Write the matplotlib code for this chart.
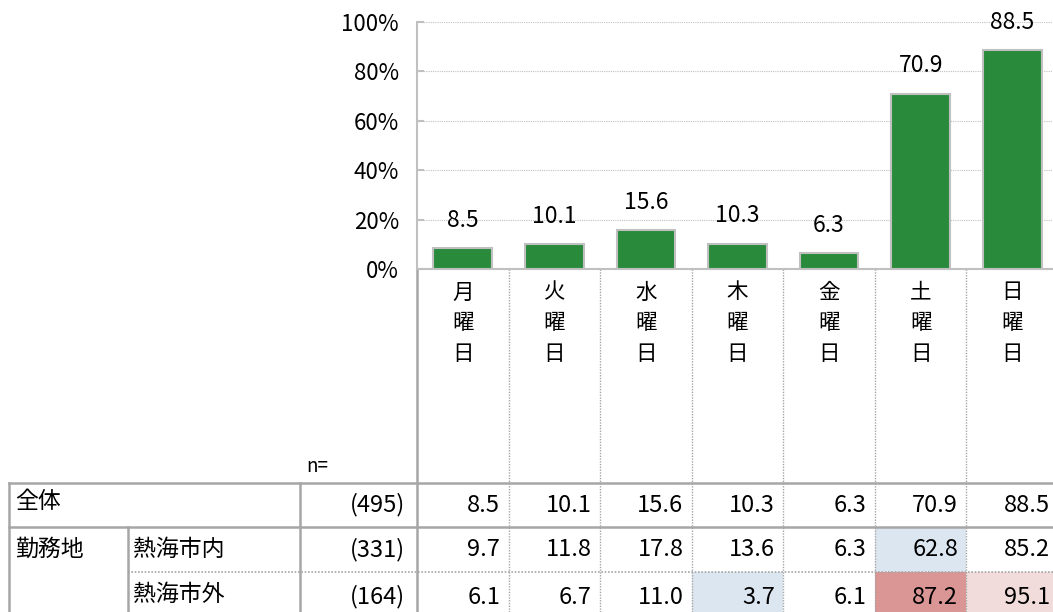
import matplotlib
matplotlib.use("Agg")
import matplotlib.pyplot as plt
import matplotlib.transforms as mtransforms
from matplotlib.patches import Rectangle

plt.rcParams["font.family"] = ["Noto Sans CJK JP", "DejaVu Sans"]
NUM_FONT = ["Liberation Sans Narrow", "Noto Sans CJK JP", "DejaVu Sans"]

# 曜日ごとの割合（%）
days = ["月曜日", "火曜日", "水曜日", "木曜日", "金曜日", "土曜日", "日曜日"]
total = [8.5, 10.1, 15.6, 10.3, 6.3, 70.9, 88.5]
inside = [9.7, 11.8, 17.8, 13.6, 6.3, 62.8, 85.2]
outside = [6.1, 6.7, 11.0, 3.7, 6.1, 87.2, 95.1]

row_labels = ["全体", "熱海市内", "熱海市外"]
group_label = "勤務地"
n_values = [495, 331, 164]

# 表のセル色分け（行, 列）
cell_colors = {
    (1, 5): "#DCE6F1",
    (2, 3): "#DCE6F1",
    (2, 5): "#DA9694",
    (2, 6): "#F2DCDB",
}

W, H = 1053, 612
fig = plt.figure(figsize=(W / 100, H / 100), dpi=100)

# 表を描くための下地（ピクセル座標）
bg = fig.add_axes([0, 0, 1, 1])
bg.set_xlim(0, W)
bg.set_ylim(H, 0)
bg.axis("off")

# 棒グラフ
x0, x1, ytop, ybot = 417, 1058, 21.7, 269
ax = fig.add_axes([x0 / W, (H - ybot) / H, (x1 - x0) / W, (ybot - ytop) / H])
ax.patch.set_alpha(0)
x = list(range(len(days)))
ax.bar(x, total, width=0.64, color="#2A8A3C", edgecolor="#C0C0C0", linewidth=1.5, zorder=3)
ax.set_xlim(-0.5, len(days) - 0.5)
ax.set_ylim(0, 100)
ax.set_yticks(range(0, 101, 20))
ax.set_yticklabels([f"{v}%" for v in range(0, 101, 20)], fontsize=16, family=NUM_FONT)
ax.tick_params(axis="y", direction="in", length=5, color="#C0C0C0", width=1.5, pad=13)
ax.grid(axis="y", color="#C0C0C0", linestyle=(0, (1, 1)), linewidth=0.8, zorder=0)
for s in ["top", "right"]:
    ax.spines[s].set_visible(False)
for s in ["left", "bottom"]:
    ax.spines[s].set_color("#C0C0C0")
    ax.spines[s].set_linewidth(1.5)

ax.set_xticks(x)
ax.set_xticklabels(["\n".join(d) for d in days], fontsize=15.5, linespacing=1.5)
ax.tick_params(axis="x", length=0, pad=9)

for xi, v in zip(x, total):
    ax.annotate(f"{v:.1f}", (xi, v), xytext=(0, 20), textcoords="offset points",
                ha="center", va="center", fontsize=16.5, family=NUM_FONT)

# 表（横方向は棒グラフのデータ座標、縦方向はピクセル）
tr = mtransforms.blended_transform_factory(ax.transData, bg.transData)
line_c = "#A6A6A6"
y_top, y_r2, y_r3, y_end = 483, 527, 572, 622

bg.text(306, 467, "n=", fontsize=13.5, ha="left", va="center")

rows = [total, inside, outside]
row_y = [(y_top + y_r2) / 2, (y_r2 + y_r3) / 2, (y_r3 + y_end) / 2]
for (r, c), col in cell_colors.items():
    y_a = [y_top, y_r2, y_r3][r]
    y_b = [y_r2, y_r3, y_end][r]
    bg.add_patch(Rectangle((c - 0.5, y_a), 1, y_b - y_a, transform=tr,
                           facecolor=col, edgecolor="none", zorder=1))

for r, vals in enumerate(rows):
    for c, v in enumerate(vals):
        bg.annotate(f"{v:.1f}", (c + 0.5, row_y[r]), xycoords=tr,
                    xytext=(-6, 0), textcoords="offset points",
                    fontsize=17, family=NUM_FONT, ha="right", va="center", zorder=3)
    bg.text(405, row_y[r], f"({n_values[r]})", fontsize=17, family=NUM_FONT,
            ha="right", va="center")

bg.text(15, row_y[0] - 3, row_labels[0], fontsize=16.5, ha="left", va="center")
bg.text(15, row_y[1], group_label, fontsize=16.5, ha="left", va="center")
bg.text(133, row_y[1], row_labels[1], fontsize=16.5, ha="left", va="center")
bg.text(133, row_y[2] - 3, row_labels[2], fontsize=16.5, ha="left", va="center")

# 罫線
bg.plot([9, W], [y_top, y_top], color=line_c, lw=1.8, zorder=2)
bg.plot([9, W], [y_r2, y_r2], color=line_c, lw=1.8, zorder=2)
bg.plot([128, W], [y_r3, y_r3], color=line_c, lw=1.2, linestyle=(0, (1, 1)), zorder=2)
bg.plot([9, 9], [y_top, H], color=line_c, lw=1.8, zorder=2)
bg.plot([128, 128], [y_r2, H], color=line_c, lw=1.8, zorder=2)
bg.plot([300, 300], [y_top, H], color=line_c, lw=1.8, zorder=2)
bg.plot([-0.5, -0.5], [ybot, H], transform=tr, color=line_c, lw=1.8, zorder=2)
for i in range(1, len(days)):
    bg.plot([i - 0.5, i - 0.5], [ybot, H], transform=tr, color=line_c, lw=1.0,
            linestyle=(0, (1, 1)), zorder=2)

fig.savefig("out.png", dpi=100)
